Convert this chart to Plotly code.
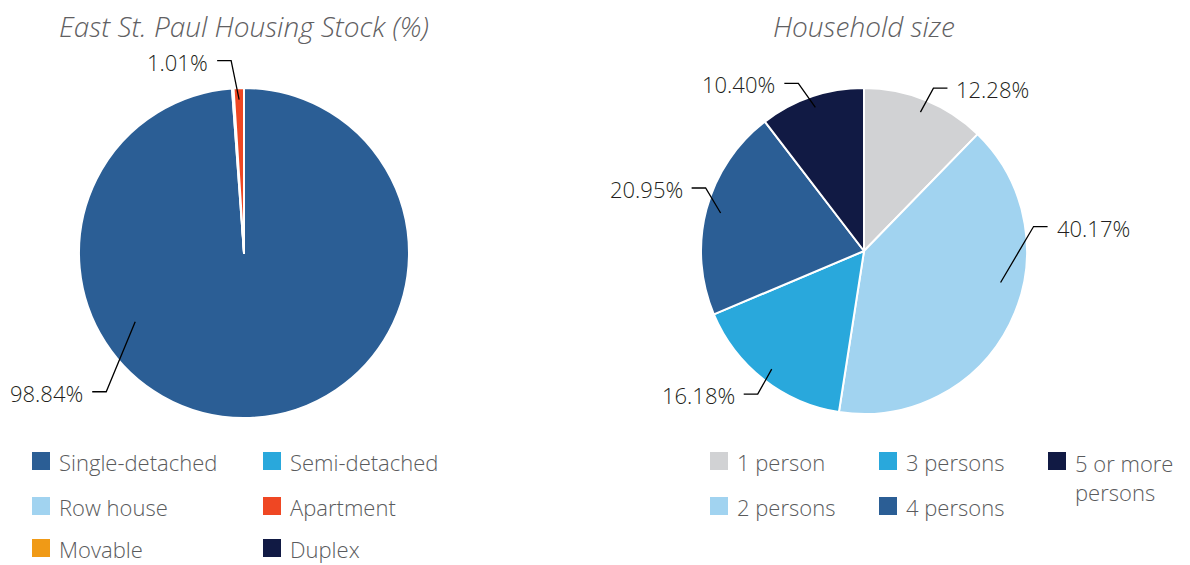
import math
import plotly.graph_objects as go

# ---------------- data ----------------
housing_categories = ["Single-detached", "Semi-detached", "Row house", "Apartment", "Movable", "Duplex"]
housing_values = [98.84, 0.15, 0.0, 1.01, 0.0, 0.0]
housing_title = "East St. Paul Housing Stock (%)"

household_categories = ["1 person", "2 persons", "3 persons", "4 persons", "5 or more persons"]
household_values = [12.28, 40.17, 16.18, 20.95, 10.40]
household_title = "Household size"

# ---------------- styling ----------------
housing_colors = ["#2b5e95", "#29a8dc", "#a1d3f0", "#ef4723", "#f09a16", "#111a44"]
household_colors = ["#d1d2d4", "#a1d3f0", "#29a8dc", "#2b5e95", "#111a44"]

W, H = 1190, 565
OFF = 8                      # page body margin
FW, FH = W - OFF, H - OFF    # figure size
FONT = "Open Sans"
LABEL_COLOR = "#231f20"
LEGEND_COLOR = "#5a5b5d"
TITLE_COLOR = "#5f6062"


def px(x):
    return (x - OFF) / FW


def py(y):
    return 1 - (y - OFF) / FH


pies = [
    dict(labels=housing_categories, values=housing_values, colors=housing_colors,
         title=housing_title, cx=244, cy=253, r=165,
         # index: (angle override, radius fraction, elbow dx, elbow dy)
         leaders={0: (237.7, 0.78, -29, 70), 3: (None, 0.93, -8, -39)}),
    dict(labels=household_categories, values=household_values, colors=household_colors,
         title=household_title, cx=864, cy=251, r=163,
         leaders={0: (None, 0.92, 13, -24), 1: (103.0, 0.86, 33, -56),
                  2: (None, 0.92, -14, 25), 3: (None, 0.91, -15, -25),
                  4: (None, 0.93, -17, -24)}),
]

fig = go.Figure()
shapes = []
annotations = []

for p in pies:
    cx, cy, r = p["cx"], p["cy"], p["r"]
    fig.add_trace(go.Pie(
        labels=p["labels"], values=p["values"], sort=False, direction="clockwise",
        rotation=0, textinfo="none", hoverinfo="label+percent", showlegend=False,
        marker=dict(colors=p["colors"], line=dict(color="white", width=2)),
        domain=dict(x=[px(cx - r), px(cx + r)], y=[py(cy + r), py(cy - r)]),
    ))
    # title
    annotations.append(dict(
        text=p["title"], x=px(cx), y=py(26), xref="paper", yref="paper",
        xanchor="center", yanchor="middle", showarrow=False,
        font=dict(family=FONT, size=28, color=TITLE_COLOR, style="italic", weight=300),
    ))
    # labels with leader lines
    total = sum(p["values"])
    cum = 0.0
    mids = []
    for v in p["values"]:
        mids.append((cum + v / 2) / total * 360)
        cum += v
    for i, (ang, rf, edx, edy) in p["leaders"].items():
        a = mids[i] if ang is None else ang
        sx = cx + rf * r * math.sin(math.radians(a))
        sy = cy - rf * r * math.cos(math.radians(a))
        ex, ey = sx + edx, sy + edy
        side = 1 if edx > 0 else -1
        hx = ex + side * 14
        path = f"M {px(sx)},{py(sy)} L {px(ex)},{py(ey)} L {px(hx)},{py(ey)}"
        shapes.append(dict(type="path", path=path, xref="paper", yref="paper",
                           line=dict(color="#000000", width=1.3)))
        annotations.append(dict(
            text=f"{p['values'][i]:.2f}%", x=px(hx + side * 7), y=py(ey + 1),
            xref="paper", yref="paper", showarrow=False,
            xanchor="left" if side > 0 else "right", yanchor="middle",
            font=dict(family=FONT, size=22, color=LABEL_COLOR, weight=300),
        ))

# ---------------- legends ----------------
SQ = 18
LEG_SIZE = 22
ROW_Y = [461, 506, 548]


def legend_item(x0, yc, color, text):
    shapes.append(dict(type="rect", xref="paper", yref="paper",
                       x0=px(x0), x1=px(x0 + SQ), y0=py(yc + SQ / 2), y1=py(yc - SQ / 2),
                       fillcolor=color, line=dict(width=0)))
    multi = "<br>" in text
    annotations.append(dict(
        text=text, x=px(x0 + 25), y=py(yc - 15) if multi else py(yc + 1),
        xref="paper", yref="paper", showarrow=False, align="left",
        xanchor="left", yanchor="top" if multi else "middle",
        font=dict(family=FONT, size=LEG_SIZE, color=LEGEND_COLOR, weight=300),
    ))


# left legend: 2 columns, row-major
for i, (lab, col) in enumerate(zip(housing_categories, housing_colors)):
    c, rw = i % 2, i // 2
    legend_item(32 + c * 231, ROW_Y[rw], col, lab)

# right legend: 3 columns, column-major, 2 rows
for i, (lab, col) in enumerate(zip(household_categories, household_colors)):
    c, rw = i // 2, i % 2
    disp = lab.replace("5 or more ", "5 or more<br>")
    legend_item(710 + c * 169, ROW_Y[rw], col, disp)

fig.update_layout(
    width=FW, height=FH, margin=dict(l=0, r=0, t=0, b=0),
    paper_bgcolor="white", plot_bgcolor="white",
    shapes=shapes, annotations=annotations,
    font=dict(family=FONT),
)

fig.write_html("out.html")
